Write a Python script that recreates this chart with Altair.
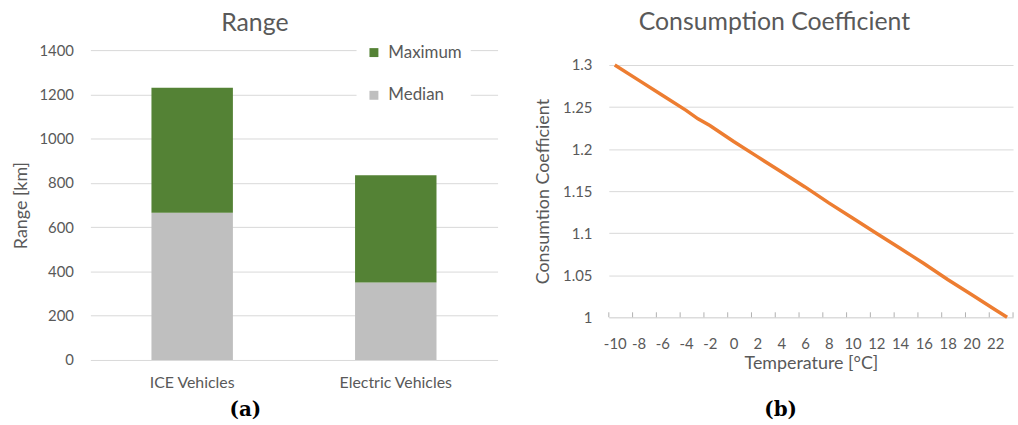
import altair as alt
import pandas as pd

# ---------------- data ----------------
categories = ["ICE Vehicles", "Electric Vehicles"]
median_km = [665, 350]
maximum_km = [1230, 835]
series_names = ["Maximum", "Median"]
series_colors = ["#548235", "#bfbfbf"]
range_ticks = [0, 200, 400, 600, 800, 1000, 1200, 1400]

temps = [-10, -8, -6, -4, -3, -2, 0, 2, 4, 6, 8, 10, 12, 14, 15, 16, 18, 20, 22, 23]
coef = [1.300, 1.282, 1.264, 1.246, 1.236, 1.228, 1.209, 1.191, 1.173, 1.155,
        1.136, 1.118, 1.100, 1.082, 1.073, 1.064, 1.045, 1.027, 1.009, 1.000]
temp_labels = [-10, -8, -6, -4, -2, 0, 2, 4, 6, 8, 10, 12, 14, 16, 18, 20, 22]
temp_tick_marks = [-10.5, -8.5, -6.5, -4.5, -2.5, -0.5, 1.5, 3.5, 5.5, 7.5, 9.5,
                   11.5, 13.5, 15.5, 17.5, 19.5, 21.5, 23.5]
coef_ticks = [1, 1.05, 1.1, 1.15, 1.2, 1.25, 1.3]
captions = ["(a)", "(b)"]

FONT = "Lato"
GREY = "#595959"
GRID = "#d9d9d9"
ORANGE = "#ed7d31"

# ---------------- panel (a) ----------------
rows = []
for c, m, mx in zip(categories, median_km, maximum_km):
    rows.append({"cat": c, "series": "Median", "start": 0, "end": m})
    rows.append({"cat": c, "series": "Maximum", "start": m, "end": mx})
bars_df = pd.DataFrame(rows)

bars = alt.Chart(bars_df).mark_bar().encode(
    x=alt.X("cat:N", sort=categories, title=None,
            scale=alt.Scale(paddingInner=0.6, paddingOuter=0.3),
            axis=alt.Axis(labelAngle=0, ticks=False, tickSize=0, domain=False,
                          labelPadding=15, labelFontSize=16)),
    y=alt.Y("start:Q", title="Range [km]",
            scale=alt.Scale(domain=[0, 1400], nice=False),
            axis=alt.Axis(values=range_ticks, format="d", ticks=False, tickSize=0,
                          domain=False, grid=True, gridColor=GRID, labelPadding=17,
                          labelFontSize=15, titleFontSize=18, titlePadding=9)),
    y2="end:Q",
    color=alt.Color("series:N",
                    scale=alt.Scale(domain=series_names, range=series_colors),
                    legend=alt.Legend(title=None, orient="none", legendX=268, legendY=-15,
                                      fillColor="white", padding=9, rowPadding=25,
                                      symbolType="square", symbolSize=81,
                                      symbolStrokeWidth=0, labelFontSize=17,
                                      labelOffset=6, labelColor=GREY, labelFont=FONT)),
)

cap_a = alt.Chart(pd.DataFrame({"t": [captions[0]]})).mark_text(
    font="DejaVu Serif", fontWeight="bold", fontSize=20, color="black"
).encode(x=alt.value(156), y=alt.value(362), text="t:N")

left = alt.layer(bars, cap_a).properties(
    width=410, height=312,
    title=alt.TitleParams("Range", offset=7),
)

# ---------------- panel (b) ----------------
RH = 269  # plot height; the y range leaves the top 15 px empty like the reference
temp_scale = alt.Scale(domain=[-10.5, 23.5], nice=False, zero=False)
temp_axis = alt.Axis(values=temp_labels, labelExpr="'' + datum.value",
                     labelOverlap=False, ticks=False, tickSize=0, domain=True,
                     domainColor=GRID, grid=False, labelPadding=19,
                     labelFontSize=15, titleFontSize=18, titlePadding=4)

line_df = pd.DataFrame({"temp": temps, "coef": coef})
line = alt.Chart(line_df).mark_line(color=ORANGE, strokeWidth=3.5).encode(
    x=alt.X("temp:Q", title="Temperature [°C]", scale=temp_scale, axis=temp_axis),
    y=alt.Y("coef:Q", title="Consumtion Coefficient",
            scale=alt.Scale(domain=[1, 1.3], nice=False, zero=False, range=[RH, 15]),
            axis=alt.Axis(values=coef_ticks, format="~g", ticks=False, tickSize=0,
                          domain=False, grid=True, gridColor=GRID, labelPadding=17,
                          labelFontSize=15, titleFontSize=18, titlePadding=10)),
)

tick_df = pd.DataFrame({"temp": temp_tick_marks})
tick_marks = alt.Chart(tick_df).mark_rule(color="#b0b0b0", strokeWidth=1).encode(
    x=alt.X("temp:Q", title="Temperature [°C]", scale=temp_scale, axis=temp_axis),
    y=alt.value(RH - 5), y2=alt.value(RH),
)

cap_b = alt.Chart(pd.DataFrame({"t": [captions[1]]})).mark_text(
    font="DejaVu Serif", fontWeight="bold", fontSize=20, color="black"
).encode(x=alt.value(173), y=alt.value(362), text="t:N")

right = alt.layer(line, tick_marks, cap_b).properties(
    width=407, height=RH,
    title=alt.TitleParams("Consumption Coefficient", offset=15),
)

chart = alt.hconcat(left, right, spacing=37).properties(
    padding={"left": 12, "top": 9, "right": 3, "bottom": 0},
).configure_view(stroke=None).configure_axis(
    labelFont=FONT, titleFont=FONT, labelColor=GREY, titleColor=GREY,
    titleFontWeight="normal",
).configure_title(
    font=FONT, fontSize=25, color=GREY, fontWeight="normal",
    anchor="middle", frame="bounds",
).configure_legend(labelFont=FONT)

chart.save("out.html", embed_options={"renderer": "svg", "actions": False})
